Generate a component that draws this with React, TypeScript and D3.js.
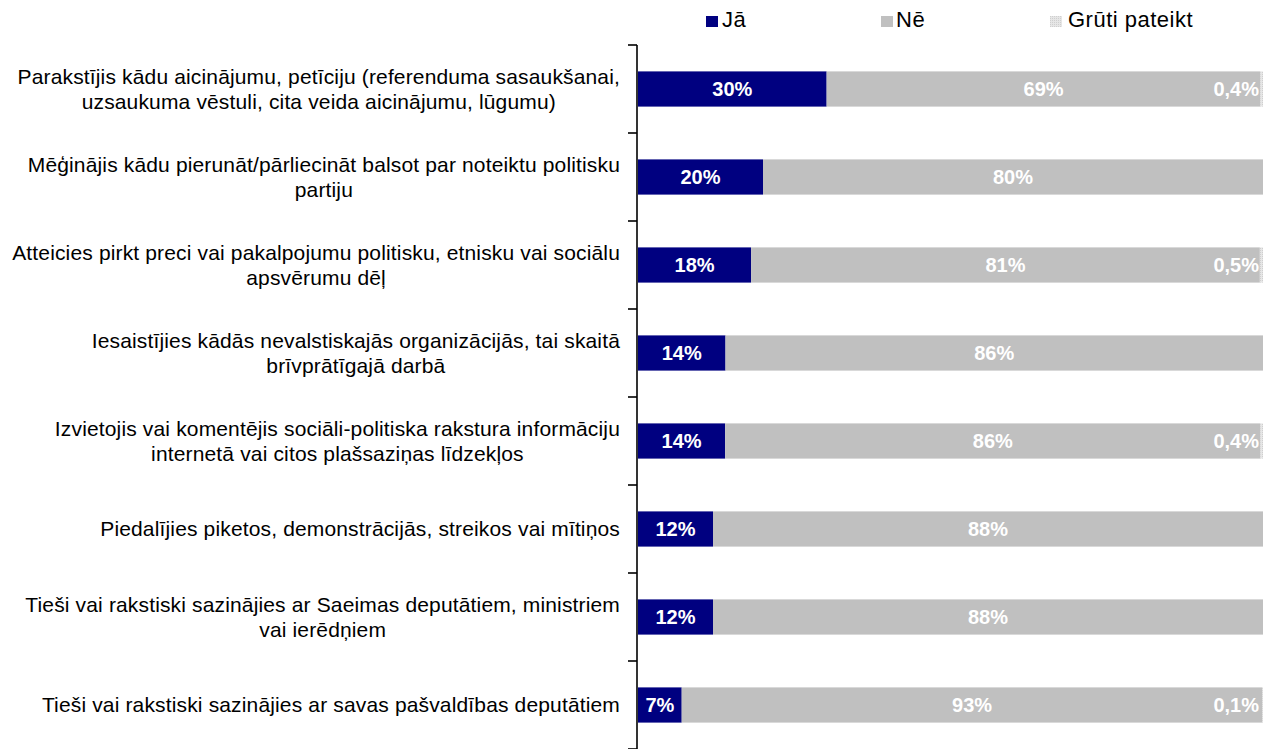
import React, { useEffect, useRef } from "react";
import * as d3 from "d3";

const categories: string[][] = [
  ["Parakstījis kādu aicinājumu, petīciju (referenduma sasaukšanai,", "uzsaukuma vēstuli, cita veida aicinājumu, lūgumu)"],
  ["Mēģinājis kādu pierunāt/pārliecināt balsot par noteiktu politisku", "partiju"],
  ["Atteicies pirkt preci vai pakalpojumu politisku, etnisku vai sociālu", "apsvērumu dēļ"],
  ["Iesaistījies kādās nevalstiskajās organizācijās, tai skaitā", "brīvprātīgajā darbā"],
  ["Izvietojis vai komentējis sociāli-politiska rakstura informāciju", "internetā vai citos plašsaziņas līdzekļos"],
  ["Piedalījies piketos, demonstrācijās, streikos vai mītiņos"],
  ["Tieši vai rakstiski sazinājies ar Saeimas deputātiem, ministriem", "vai ierēdņiem"],
  ["Tieši vai rakstiski sazinājies ar savas pašvaldības deputātiem"],
];

const yes: number[] = [30, 20, 18, 14, 14, 12, 12, 7];
const no: number[] = [69, 80, 81, 86, 86, 88, 88, 93];
const hard: number[] = [0.4, 0, 0.5, 0, 0.4, 0, 0, 0.1];

const seriesNames = ["Jā", "Nē", "Grūti pateikt"];

const W = 1268;
const H = 749;
const FONT = "'Liberation Sans', Arial, sans-serif";

export default function App() {
  const ref = useRef<SVGSVGElement | null>(null);

  useEffect(() => {
    const svg = d3.select(ref.current);
    svg.selectAll("*").remove();

    const x0 = 638;
    const x1 = 1263;
    const top = 45;
    const bottom = 749;

    const idx = categories.map((_, i) => i);
    const y = d3.scaleBand<number>().domain(idx).range([top, bottom]).paddingInner(0.6).paddingOuter(0.3);
    const x = d3.scaleLinear().domain([0, 1]).range([x0, x1]);

    const defs = svg.append("defs");
    const pat = defs
      .append("pattern")
      .attr("id", "hatch")
      .attr("width", 2)
      .attr("height", 2)
      .attr("patternUnits", "userSpaceOnUse");
    pat.append("rect").attr("width", 2).attr("height", 2).attr("fill", "#e6e6e6");
    pat.append("rect").attr("width", 1).attr("height", 1).attr("fill", "#cfcfcf");

    const colors = ["#000080", "#c0c0c0", "url(#hatch)"];

    // bars
    idx.forEach((i) => {
      const vals = [yes[i], no[i], hard[i]];
      const total = d3.sum(vals);
      let acc = 0;
      const by = y(i)!;
      const bh = y.bandwidth();
      const g = svg.append("g");
      vals.forEach((v, s) => {
        if (v <= 0) return;
        const a = x(acc / total);
        const b = x((acc + v) / total);
        g.append("rect")
          .attr("x", a)
          .attr("y", by)
          .attr("width", b - a)
          .attr("height", bh)
          .attr("fill", colors[s]);
        const label = (v < 1 ? d3.format(".1f")(v).replace(".", ",") : d3.format("d")(v)) + "%";
        const t = g
          .append("text")
          .attr("y", by + bh / 2 + 7)
          .attr("fill", "#ffffff")
          .attr("font-family", FONT)
          .attr("font-weight", "bold")
          .attr("font-size", 20)
          .text(label);
        if (s === 2) {
          t.attr("x", x1 - 4).attr("text-anchor", "end");
        } else {
          t.attr("x", (a + b) / 2).attr("text-anchor", "middle");
        }
        acc += v;
      });
    });

    // axis
    const step = y.step();
    svg
      .append("line")
      .attr("x1", x0 - 1)
      .attr("x2", x0 - 1)
      .attr("y1", top)
      .attr("y2", bottom)
      .attr("stroke", "#000")
      .attr("stroke-width", 1.6);
    d3.range(categories.length + 1).forEach((k) => {
      const ty = top + k * step;
      svg
        .append("line")
        .attr("x1", x0 - 10)
        .attr("x2", x0 - 1)
        .attr("y1", ty)
        .attr("y2", ty)
        .attr("stroke", "#000")
        .attr("stroke-width", 1.6);
    });

    // category labels
    const right = 620;
    idx.forEach((i) => {
      const lines = categories[i];
      const cy = y(i)! + y.bandwidth() / 2;
      const lh = 25;
      const g = svg.append("g");
      const texts = lines.map((ln, j) =>
        g
          .append("text")
          .attr("y", cy - ((lines.length - 1) * lh) / 2 + j * lh + 7)
          .attr("font-family", FONT)
          .attr("font-size", 21)
          .attr("letter-spacing", 0.15)
          .attr("fill", "#000")
          .attr("text-anchor", "middle")
          .text(ln)
      );
      const maxW = d3.max(texts.map((t) => (t.node() as SVGTextElement).getComputedTextLength())) || 0;
      texts.forEach((t) => t.attr("x", right - maxW / 2));
    });

    // legend
    const legX = [706, 881, 1050];
    const legTX = [722, 896, 1068];
    seriesNames.forEach((n, s) => {
      svg
        .append("rect")
        .attr("x", legX[s])
        .attr("y", 16)
        .attr("width", 12)
        .attr("height", 11)
        .attr("fill", colors[s]);
      svg
        .append("text")
        .attr("x", legTX[s])
        .attr("y", 27)
        .attr("font-family", FONT)
        .attr("font-size", 22)
        .attr("letter-spacing", 0.5)
        .attr("fill", "#000")
        .text(n);
    });
  }, []);

  return (
    <svg
      ref={ref}
      width={W}
      height={H}
      style={{ position: "absolute", left: 0, top: 0, background: "#fff" }}
    />
  );
}
